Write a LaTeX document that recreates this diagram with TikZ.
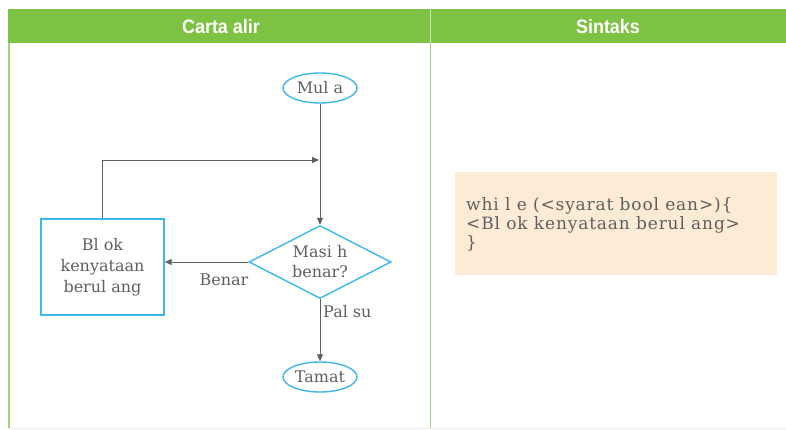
\documentclass[tikz,border=0pt]{standalone}
\usepackage{fontspec}
\setmainfont{DejaVu Serif}
\newfontfamily\headfont{Liberation Sans}
\newfontfamily\codefont[LetterSpace=5]{DejaVu Serif}
\usetikzlibrary{shapes.geometric,arrows.meta}
\definecolor{tablegreen}{HTML}{7DC242}
\definecolor{rulegreen}{HTML}{9FD27A}
\definecolor{flowblue}{HTML}{3CB8EC}
\definecolor{inkgray}{HTML}{5F5F5F}
\definecolor{codepeach}{HTML}{FDEBD6}
\begin{document}
\begin{tikzpicture}[x=1pt,y=-1pt,
  headtext/.style={text=white,font=\headfont\bfseries\fontsize{19.5}{22}\selectfont},
  terminal/.style={ellipse,draw=flowblue,line width=1.4pt,minimum width=74pt,minimum height=30pt,inner sep=0pt,
    text=inkgray,font=\fontsize{16}{18}\selectfont},
  decision/.style={diamond,draw=flowblue,line width=1.4pt,minimum width=142pt,minimum height=73pt,inner sep=-15pt,
    align=center,text=inkgray,font=\fontsize{16}{20}\selectfont},
  process/.style={rectangle,draw=flowblue,line width=1.4pt,minimum width=123pt,minimum height=96pt,inner sep=0pt,
    align=center,text=inkgray,font=\fontsize{16}{21}\selectfont},
  flow/.style={draw=inkgray,line width=0.8pt,-{Triangle[length=7pt,width=6pt]}},
  edgelabel/.style={text=inkgray,font=\fontsize{16}{18}\selectfont,inner sep=0pt}]
\useasboundingbox (0,0) rectangle (786,430);
\fill[white] (0,0) rectangle (786,430);

% table frame and header row
\fill[tablegreen] (8,9) rectangle (786,43);
\draw[white!60!tablegreen,line width=1pt] (430.5,9) -- (430.5,43);
\draw[rulegreen,line width=1.6pt] (9,43) -- (9,428);
\draw[rulegreen,line width=1.6pt] (430.5,43) -- (430.5,428);
\draw[black!8,line width=0.8pt] (9,428.5) -- (786,428.5);
\node[headtext] (h1) at (221,27) {\scalebox{0.92}[1]{Carta alir}};
\node[headtext] (h2) at (608,27) {\scalebox{0.92}[1]{Sintaks}};

% flowchart
\node[terminal] (mula) at (320,88) {Mul a};
\node[decision] (cond) at (320,262) {Masi h\\benar?};
\node[process] (blok) at (102.5,267) {Bl ok\\kenyataan\\berul ang};
\node[terminal] (tamat) at (320,377) {Tamat};
\coordinate (join) at (319,160);

\draw[flow] (mula) -- (cond);
\draw[flow] (cond.west) -- (cond.west -| blok.east);
\draw[flow] (cond) -- (tamat);
\draw[flow] (blok.north) -- (blok.north |- join) -- (join);

\node[edgelabel] (benar) at (224,280) {Benar};
\node[edgelabel,anchor=west] (palsu) at (323,312) {Pal su};

% syntax panel
\fill[codepeach] (455,172) rectangle (777,275);
\node[anchor=north west,align=left,text=inkgray,inner sep=0pt,
  font=\codefont\fontsize{17}{19}\selectfont] (code) at (466,197)
  {whi l e (<syarat bool ean>)\{\\<Bl ok kenyataan berul ang>\\\}};
\end{tikzpicture}
\end{document}
